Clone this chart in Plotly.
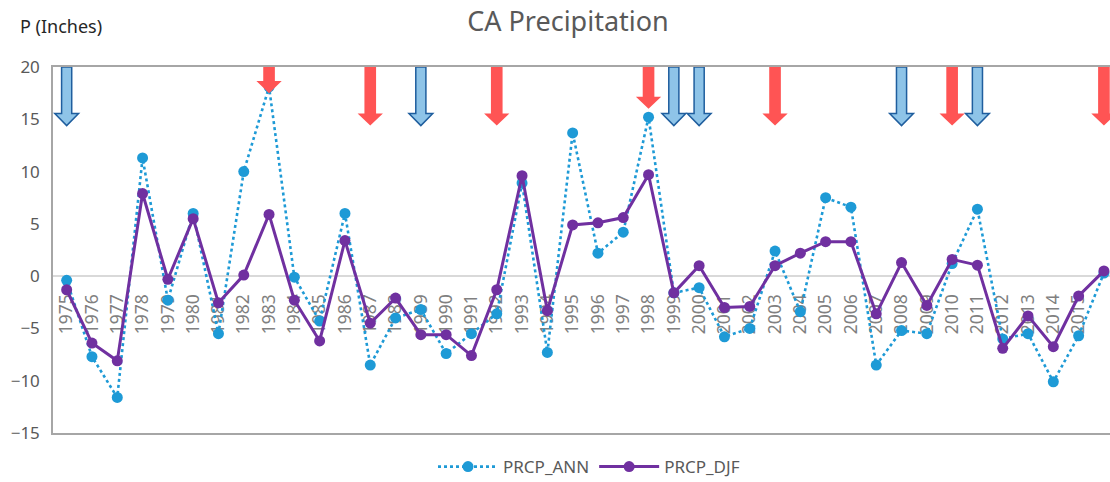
import plotly.graph_objects as go

years = [str(y) for y in range(1975, 2017)]
prcp_ann = [-0.4, -7.7, -11.6, 11.3, -2.3, 6.0, -5.5, 10.0, 18.1, -0.1,
            -4.3, 6.0, -8.5, -4.0, -3.2, -7.4, -5.5, -3.6, 8.9, -7.3,
            13.7, 2.2, 4.2, 15.2, -1.6, -1.1, -5.8, -5.0, 2.4, -3.4,
            7.5, 6.6, -8.5, -5.2, -5.5, 1.2, 6.4, -6.0, -5.5, -10.1,
            -5.7, 0.3]
prcp_djf = [-1.3, -6.4, -8.1, 7.9, -0.3, 5.5, -2.55, 0.1, 5.9, -2.3,
            -6.2, 3.4, -4.5, -2.1, -5.6, -5.6, -7.6, -1.3, 9.6, -3.3,
            4.9, 5.1, 5.6, 9.7, -1.6, 1.0, -3.0, -2.9, 1.0, 2.2,
            3.3, 3.3, -3.6, 1.3, -2.8, 1.6, 1.05, -6.9, -3.8, -6.75,
            -1.9, 0.5]

# Event arrows (year, tip value); all start at top of axis (20)
blue_arrow_years = ["1975", "1989", "1999", "2000", "2008", "2011"]
blue_arrow_tips = [14.4, 14.4, 14.4, 14.4, 14.4, 14.4]
red_arrow_years = ["1983", "1987", "1992", "1998", "2003", "2010", "2016"]
red_arrow_tips = [17.5, 14.4, 14.4, 16.0, 14.4, 14.4, 14.4]
arrow_top = 20

y_ticks = [-15, -10, -5, 0, 5, 10, 15, 20]

xs = list(range(len(years)))
BLUE = "#1E9AD6"
PURPLE = "#7030A0"

fig = go.Figure()
fig.add_trace(go.Scatter(
    x=xs, y=prcp_ann, name="PRCP_ANN", mode="lines+markers",
    line=dict(color=BLUE, width=2.6, dash="dot"),
    marker=dict(color=BLUE, size=11),
))
fig.add_trace(go.Scatter(
    x=xs, y=prcp_djf, name="PRCP_DJF", mode="lines+markers",
    line=dict(color=PURPLE, width=3),
    marker=dict(color=PURPLE, size=11),
))


def arrow_path(i, top, tip, hw, HW, hh):
    pts = [(i - hw, top), (i + hw, top), (i + hw, tip + hh), (i + HW, tip + hh),
           (i, tip), (i - HW, tip + hh), (i - hw, tip + hh)]
    return "M " + " L ".join(f"{x},{y}" for x, y in pts) + " Z"


shapes = []
for yr, tip in zip(blue_arrow_years, blue_arrow_tips):
    i = years.index(yr)
    shapes.append(dict(type="path", xref="x", yref="y",
                       path=arrow_path(i, arrow_top, tip, 0.2, 0.47, 1.15),
                       fillcolor="#8EC4E8", line=dict(color="#1F5E9E", width=1.5),
                       layer="above"))
for yr, tip in zip(red_arrow_years, red_arrow_tips):
    i = years.index(yr)
    shapes.append(dict(type="path", xref="x", yref="y",
                       path=arrow_path(i, arrow_top, tip, 0.23, 0.5, 1.15),
                       fillcolor="#FF5454", line=dict(width=0),
                       layer="above"))

x_range = [-0.54, 41.24]
y_range = [-15, 20]
zero_pos = (0 - y_range[0]) / (y_range[1] - y_range[0])

fig.update_layout(
    width=1110, height=482,
    margin=dict(l=53, r=0, t=67, b=49, autoexpand=False),
    paper_bgcolor="white", plot_bgcolor="white",
    font=dict(family="Noto Sans", color="#595959"),
    shapes=shapes,
    title=dict(text="CA Precipitation", x=568 / 1110, xref="container", xanchor="center",
               y=1 - 22 / 482, yref="container", yanchor="middle",
               font=dict(size=27, color="#595959")),
    xaxis=dict(
        range=x_range, tickmode="array", tickvals=xs, ticktext=years,
        tickangle=-90, anchor="free", position=zero_pos,
        showline=False, showgrid=False, zeroline=False,
        ticks="outside", ticklen=10, tickcolor="rgba(0,0,0,0)",
        tickfont=dict(size=17.5, color="#808080"), layer="below traces",
    ),
    xaxis2=dict(
        range=x_range, overlaying="x", anchor="y", side="bottom",
        showline=True, linecolor="#A6A6A6", linewidth=1.5, mirror=True,
        showticklabels=False, showgrid=False, zeroline=False, ticks="",
    ),
    yaxis=dict(
        range=y_range, tickmode="array", tickvals=y_ticks,
        showgrid=False, zeroline=True, zerolinecolor="#D9D9D9", zerolinewidth=1.5,
        showline=True, linecolor="#A6A6A6", linewidth=1.5,
        ticks="outside", ticklen=8, tickcolor="rgba(0,0,0,0)",
        tickfont=dict(size=17, color="#595959"),
    ),
    showlegend=True,
    legend=dict(orientation="h", x=589 / 1110, xref="container", xanchor="center",
                y=-0.093, yanchor="middle",
                font=dict(size=17, color="#595959"), itemwidth=60,
                bgcolor="rgba(0,0,0,0)"),
    annotations=[dict(text="P (Inches)", xref="paper", yref="paper",
                      x=-35 / 1057, y=1 + 41 / 366, xanchor="left", yanchor="middle",
                      showarrow=False, font=dict(size=18, color="#262626"))],
)
# dummy invisible trace so xaxis2 renders
fig.add_trace(go.Scatter(x=[0], y=[0], xaxis="x2", mode="markers",
                         marker=dict(opacity=0), showlegend=False, hoverinfo="skip"))

fig.write_html("out.html", config={"displayModeBar": False},
               post_script="document.body.style.margin='0';document.body.style.overflow='hidden';")
